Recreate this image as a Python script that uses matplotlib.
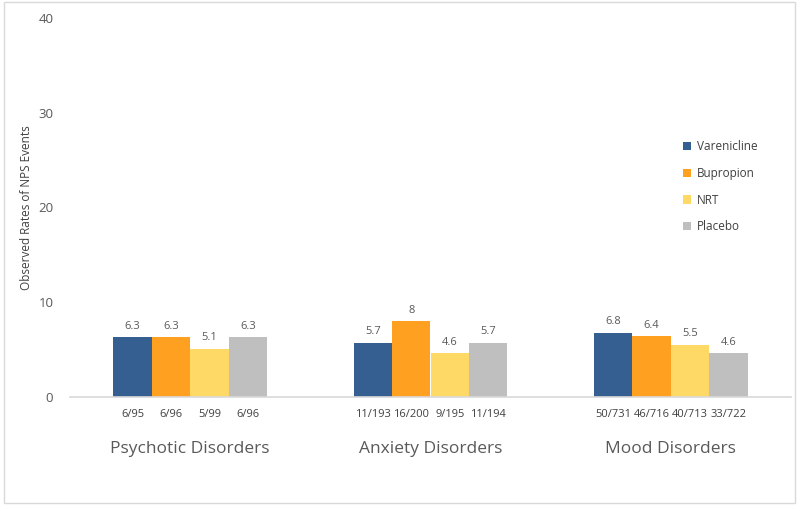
import numpy as np
import matplotlib
matplotlib.use("Agg")
import matplotlib.pyplot as plt
from matplotlib.patches import Rectangle

plt.rcParams["font.family"] = ["Open Sans", "DejaVu Sans"]

# ---- data ----
groups = ["Psychotic Disorders", "Anxiety Disorders", "Mood Disorders"]
treatments = ["Varenicline", "Bupropion", "NRT", "Placebo"]
varenicline = [6.3, 5.7, 6.8]
bupropion = [6.3, 8.0, 6.4]
nrt = [5.1, 4.6, 5.5]
placebo = [6.3, 5.7, 4.6]
value_labels = [["6.3", "5.7", "6.8"], ["6.3", "8", "6.4"],
                ["5.1", "4.6", "5.5"], ["6.3", "5.7", "4.6"]]
counts = [["6/95", "11/193", "50/731"], ["6/96", "16/200", "46/716"],
          ["5/99", "9/195", "40/713"], ["6/96", "11/194", "33/722"]]
yticks = [0, 10, 20, 30, 40]

colors = ["#355E91", "#FFA020", "#FFD966", "#BFBFBF"]
text_col = "#595959"

fig = plt.figure(figsize=(8, 5.08), dpi=100)
# light frame around the whole chart
fig.patches.append(Rectangle((4 / 800, 5 / 508), 791 / 800, 501 / 508,
                             transform=fig.transFigure, fill=False,
                             edgecolor="#D9D9D9", linewidth=1))

ax = fig.add_axes([70 / 800, (508 - 397) / 508, 721 / 800, 379 / 508])

series = [varenicline, bupropion, nrt, placebo]
x = np.arange(len(groups))
width = 0.16
for i, vals in enumerate(series):
    pos = x + (i - 1.5) * width
    ax.bar(pos, vals, width, color=colors[i], label=treatments[i])
    for j, v in enumerate(vals):
        ax.text(pos[j], v + 0.6, value_labels[i][j], ha="center", va="bottom",
                fontsize=8, color=text_col)
        ax.text(pos[j], -1.3, counts[i][j], ha="center", va="top",
                fontsize=8, color="#404040")

for j, g in enumerate(groups):
    ax.text(x[j], -4.6, g, ha="center", va="top", fontsize=12.5, color=text_col)

ax.set_xlim(-0.5, 2.5)
ax.set_ylim(0, 40)
ax.set_yticks(yticks)
ax.set_xticks([])
ax.tick_params(axis="y", length=0, pad=12, labelsize=9.5, labelcolor=text_col)
for s in ["top", "right", "left"]:
    ax.spines[s].set_visible(False)
ax.spines["bottom"].set_color("#D9D9D9")
ax.spines["bottom"].set_linewidth(1.2)

ax.set_ylabel("Observed Rates of NPS Events", fontsize=8.5, color="#404040", labelpad=4)

leg = ax.legend(loc="upper left", bbox_to_anchor=(0.835, 0.705), frameon=False,
                fontsize=8.5, handlelength=0.7, handleheight=0.7,
                labelspacing=1.15, handletextpad=0.5)
for t in leg.get_texts():
    t.set_color("#404040")

fig.savefig("out.png", dpi=100)
